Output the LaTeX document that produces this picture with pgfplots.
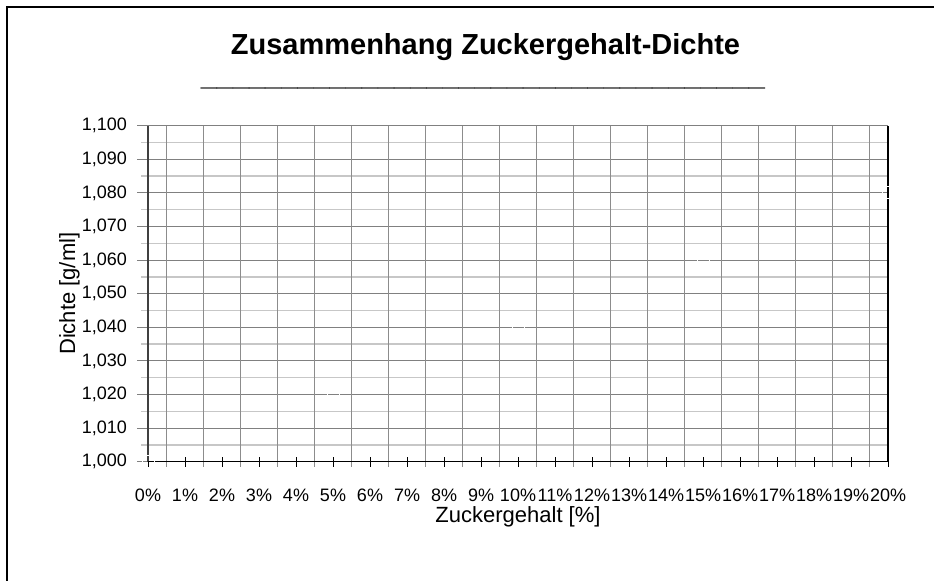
\documentclass[border=0pt]{standalone}
\usepackage{pgfplots}
\pgfplotsset{compat=1.18}
\usepackage{fontspec}
\setmainfont{Liberation Sans}
\definecolor{vgrid}{gray}{0.55}
\definecolor{hmaj}{gray}{0.5}
\definecolor{hmin}{gray}{0.78}
\definecolor{axdark}{gray}{0.25}
\begin{document}
\begin{tikzpicture}[x=1bp,y=1bp]
\useasboundingbox (0,0) rectangle (934,-581);
\draw[line width=2bp] (7,-581) -- (7,-7) -- (934,-7);
\node[font=\bfseries\fontsize{29bp}{33bp}\selectfont, anchor=base, inner sep=0pt] at (485.5,-55) {Zusammenhang Zuckergehalt-Dichte};
\node[font=\bfseries\fontsize{29bp}{33bp}\selectfont, anchor=base, inner sep=0pt] at (483,-86) {\_\_\_\_\_\_\_\_\_\_\_\_\_\_\_\_\_\_\_\_\_\_\_\_\_\_\_\_\_\_\_\_\_\_\_};
\begin{axis}[
  at={(148bp,-461.7bp)}, anchor=south west,
  scale only axis, width=740bp, height=336bp,
  xmin=0, xmax=20, ymin=1, ymax=1.1,
  xtick=\empty,
  ytick={1.000,1.010,1.020,1.030,1.040,1.050,1.060,1.070,1.080,1.090,1.100},
  yticklabels={{1,000},{1,010},{1,020},{1,030},{1,040},{1,050},{1,060},{1,070},{1,080},{1,090},{1,100}},
  minor ytick={1.005,1.015,1.025,1.035,1.045,1.055,1.065,1.075,1.085,1.095},
  ytick pos=left,
  tick align=center,
  major tick length=22bp, minor tick length=14bp,
  major tick style={hmaj, line width=1bp},
  minor tick style={hmin, line width=1.5bp},
  ymajorgrids, yminorgrids,
  major grid style={hmaj, line width=1bp},
  minor grid style={hmin, line width=1.5bp},
  axis line style={draw=none},
  yticklabel style={font=\fontsize{18bp}{20bp}\selectfont, anchor=east, inner sep=0pt, xshift=-10bp},
  ylabel={Dichte [g/ml]},
  every axis y label/.style={at={(axis description cs:-0.0986,0.5)}, rotate=90, anchor=base, font=\fontsize{22bp}{26bp}\selectfont, inner sep=0pt},
]
\end{axis}
\begin{axis}[
  at={(148bp,-461.7bp)}, anchor=south west,
  scale only axis, width=740bp, height=336bp,
  xmin=0, xmax=20, ymin=1, ymax=1.1,
  ytick=\empty,
  xtick={0,1,2,3,4,5,6,7,8,9,10,11,12,13,14,15,16,17,18,19,20},
  xticklabels={0\%,1\%,2\%,3\%,4\%,5\%,6\%,7\%,8\%,9\%,10\%,11\%,12\%,13\%,14\%,15\%,16\%,17\%,18\%,19\%,20\%},
  minor xtick={0.5,1.5,2.5,3.5,4.5,5.5,6.5,7.5,8.5,9.5,10.5,11.5,12.5,13.5,14.5,15.5,16.5,17.5,18.5,19.5},
  xtick pos=left,
  xminorgrids,
  tick align=center,
  major tick length=10bp, minor tick length=10bp,
  major tick style={black, line width=1bp},
  minor tick style={vgrid, line width=1.5bp},
  minor grid style={vgrid, line width=1.5bp},
  axis line style={draw=none},
  clip=false,
  xticklabel style={font=\fontsize{18bp}{20bp}\selectfont, anchor=base, inner sep=0pt, yshift=-35bp},
  xlabel={Zuckergehalt [\%]},
  every axis x label/.style={at={(axis description cs:0.5,-0.1795)}, anchor=base, font=\fontsize{22bp}{26bp}\selectfont, inner sep=0pt},
]
\draw[axdark, line width=2bp] (rel axis cs:0,0) -- (rel axis cs:0,1);
\draw[black, line width=1.5bp] (rel axis cs:0,0) -- (rel axis cs:1,0);
\draw[black, line width=2bp] (rel axis cs:1,0) -- (rel axis cs:1,1);
\addplot[only marks, mark=square, mark size=6bp, white, line width=1bp] coordinates {(0,1.000) (5,1.020) (10,1.040) (15,1.060) (20,1.080)};
\end{axis}
\end{tikzpicture}
\end{document}
